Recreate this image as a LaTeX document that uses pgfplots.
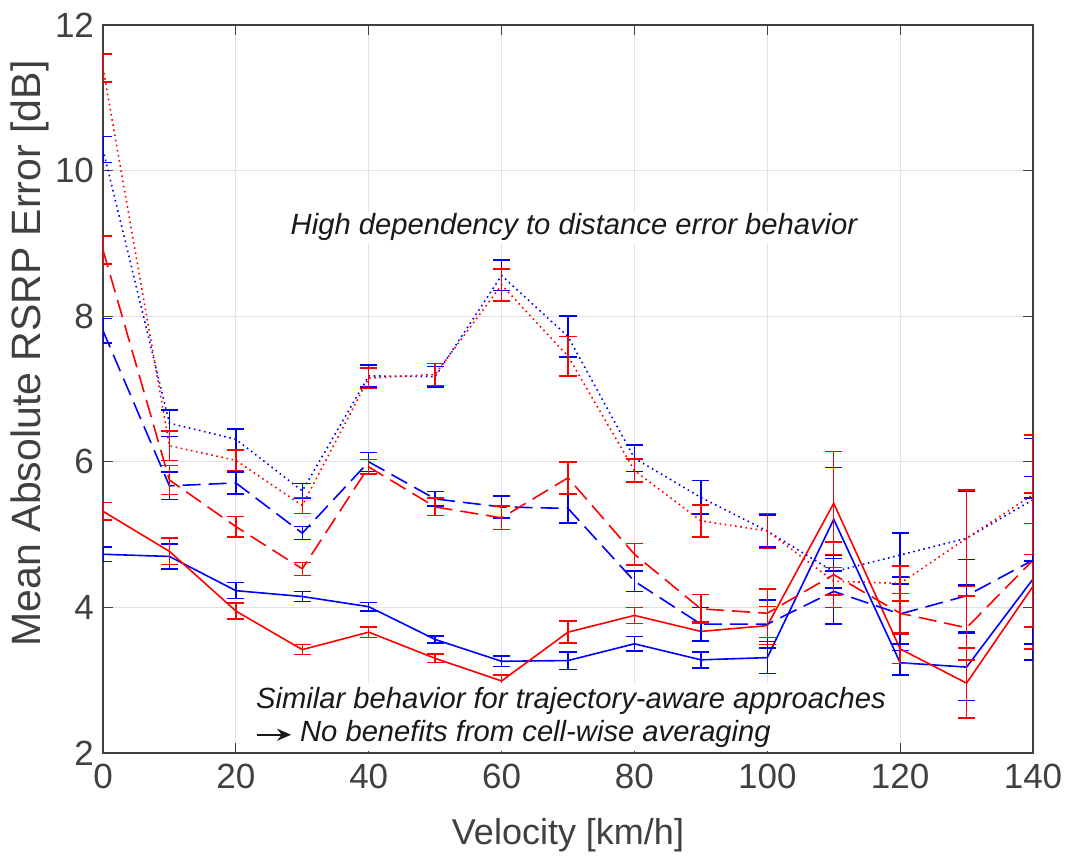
\documentclass[border=0pt]{standalone}
\usepackage{fontspec}
\setmainfont{Liberation Sans}
\usepackage{pgfplots}
\usepackage{pgfplotstable}
\pgfplotsset{compat=1.18}
\usetikzlibrary{arrows.meta}

\definecolor{axgray}{RGB}{64,64,64}
\definecolor{gridgray}{RGB}{225,225,225}

\pgfplotstableread{
x y e
0 4.73 0.10
10 4.70 0.17
20 4.23 0.11
30 4.15 0.07
40 4.01 0.06
50 3.56 0.05
60 3.26 0.07
70 3.27 0.12
80 3.50 0.10
90 3.28 0.11
100 3.31 0.22
110 5.21 0.71
120 3.24 0.17
130 3.18 0.46
140 4.39 1.11
}\bsolid

\pgfplotstableread{
x y e
0 5.32 0.12
10 4.77 0.18
20 3.95 0.11
30 3.42 0.07
40 3.66 0.07
50 3.30 0.06
60 2.99 0.08
70 3.66 0.15
80 3.89 0.11
90 3.67 0.13
100 3.75 0.26
110 5.43 0.71
120 3.43 0.20
130 2.96 0.48
140 4.29 0.86
}\rsolid

\pgfplotstableread{
x y e
0 7.80 0.17
10 5.67 0.19
20 5.71 0.15
30 5.02 0.09
40 6.00 0.13
50 5.49 0.10
60 5.38 0.15
70 5.36 0.20
80 4.36 0.14
90 3.77 0.23
100 3.77 0.33
110 4.22 0.45
120 3.91 0.41
130 4.16 0.50
140 4.65 1.15
}\bdashed

\pgfplotstableread{
x y e
0 8.91 0.19
10 5.75 0.20
20 5.11 0.14
30 4.53 0.09
40 5.93 0.10
50 5.38 0.12
60 5.23 0.16
70 5.78 0.22
80 4.73 0.15
90 3.98 0.20
100 3.92 0.33
110 4.45 0.45
120 3.92 0.27
130 3.72 0.44
140 4.65 0.92
}\rdashed

\pgfplotstableread{
x y e
0 10.29 0.18
10 6.53 0.18
20 6.31 0.14
30 5.60 0.10
40 7.18 0.15
50 7.17 0.14
60 8.56 0.21
70 7.72 0.28
80 6.05 0.18
90 5.51 0.23
100 5.05 0.22
110 4.49 0.22
120 4.72 0.30
130 4.95 0.64
140 5.48 0.84
}\bdotted

\pgfplotstableread{
x y e
0 11.41 0.19
10 6.22 0.20
20 6.02 0.14
30 5.40 0.11
40 7.15 0.14
50 7.20 0.15
60 8.43 0.22
70 7.45 0.27
80 5.88 0.16
90 5.19 0.22
100 5.05 0.24
110 4.36 0.19
120 4.33 0.24
130 4.95 0.66
140 5.55 0.82
}\rdotted

\pgfplotsset{
  ebar/.style={error bars/.cd, y dir=both, y explicit,
    error bar style={solid, line width=0.75pt},
    error mark options={solid, rotate=90, mark size=4.3pt, line width=0.75pt}},
  mydash/.style={dash pattern=on 9pt off 4pt},
  mydot/.style={dash pattern=on 0.8pt off 1.8pt},
}

\newsavebox\arrowbox
\sbox\arrowbox{\tikz[baseline=-0.6ex]\draw[-{Stealth[length=7pt,width=6pt]}, line width=0.9pt, black!90] (0,0)--(17pt,0);}

\begin{document}
\begin{tikzpicture}
\begin{axis}[name=ax, scale only axis, width=465pt, height=364pt,
  xmin=0, xmax=140, ymin=2, ymax=12,
  xtick={0,20,...,140}, ytick={2,4,...,12},
  grid=major, major grid style={gridgray, line width=0.5pt},
  axis line style={axgray, line width=0.6pt},
  tick style={axgray, line width=0.6pt}, tick align=inside, major tick length=5pt,
  ticklabel style={font=\fontsize{17.5}{20}\selectfont, text=axgray},
  xticklabel style={yshift=-2pt},
  yticklabel style={xshift=-1pt},
  /pgf/number format/assume math mode=true,
  xlabel={Velocity [km/h]}, ylabel={Mean Absolute RSRP Error [dB]},
  xlabel style={font=\fontsize{18}{22}\selectfont, text=axgray, at={(axis description cs:0.5,-0.1126)}, anchor=center},
  ylabel style={font=\fontsize{20.5}{24}\selectfont, text=axgray, at={(axis description cs:-0.0785,0.549)}, anchor=center},
]
\addplot[blue, line width=0.8pt, ebar] table[x=x,y=y,y error=e] {\bsolid};
\addplot[red, line width=0.8pt, ebar] table[x=x,y=y,y error=e] {\rsolid};
\addplot[blue, line width=0.8pt, mydash, ebar] table[x=x,y=y,y error=e] {\bdashed};
\addplot[red, line width=0.8pt, mydash, ebar] table[x=x,y=y,y error=e] {\rdashed};
\addplot[blue, line width=0.8pt, mydot, ebar] table[x=x,y=y,y error=e] {\bdotted};
\addplot[red, line width=0.8pt, mydot, ebar] table[x=x,y=y,y error=e] {\rdotted};

\node[fill=white, inner sep=1pt, font=\fontsize{14.6}{17}\selectfont\itshape, text=black!90]
  at (axis cs:70.9,9.22) {High dependency to distance error behavior};
\node[fill=white, inner sep=2pt, anchor=south west, align=left,
  font=\fontsize{14.6}{16.5}\selectfont\itshape, text=black!90]
  at (axis cs:22.4,2.02) {Similar behavior for trajectory-aware approaches\\
  \usebox\arrowbox~No benefits from cell-wise averaging};
\end{axis}
\pgfresetboundingbox
\path ([shift={(-51.5pt,-53pt)}]ax.south west) rectangle ([shift={(16pt,12.5pt)}]ax.north east);
\end{tikzpicture}
\end{document}
